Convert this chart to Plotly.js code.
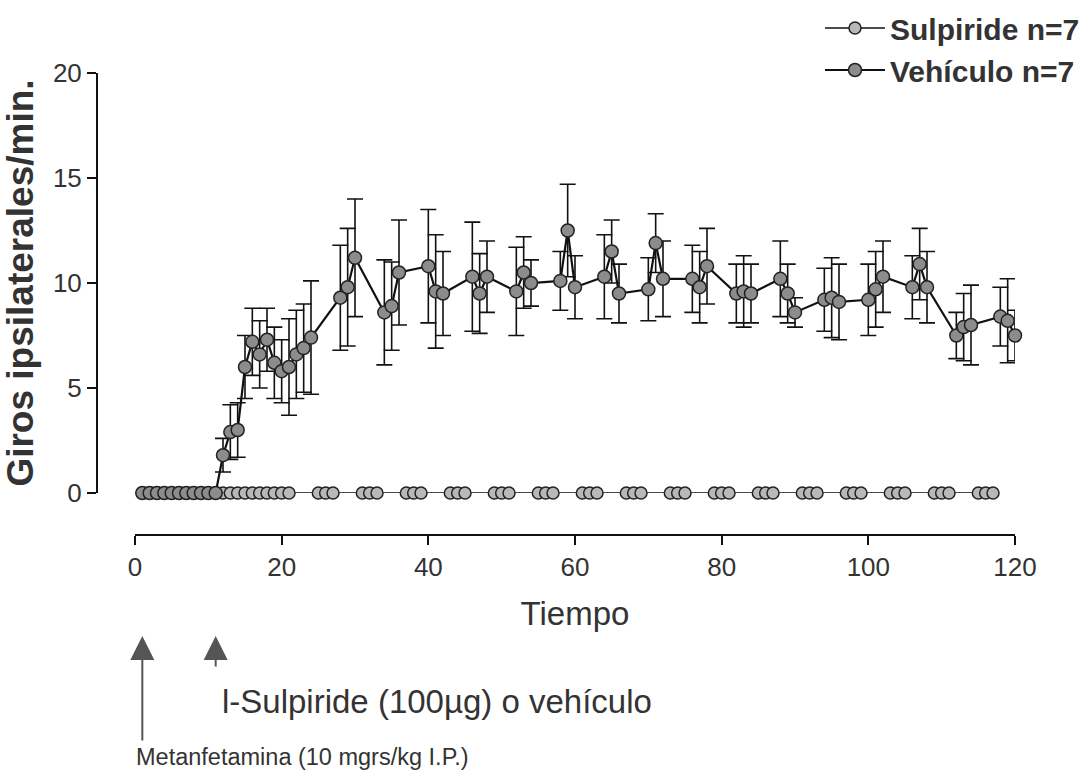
<!DOCTYPE html>
<html>
<head>
<meta charset="utf-8">
<script src="https://cdn.plot.ly/plotly-3.0.1.min.js"></script>
<style>html,body{margin:0;padding:0;background:#fff;}#chart{width:1089px;height:780px;}</style>
</head>
<body>
<div id="chart"></div>
<script>
// ---- data ----
const seriesNames = ["Sulpiride n=7", "Vehículo n=7"];

const sulpTime = [1,2,3,4,5,6,7,8,9,10,11,12,13,14,15,16,17,18,19,20,21,
  25,26,27,31,32,33,37,38,39,43,44,45,49,50,51,55,56,57,61,62,63,67,68,69,
  73,74,75,79,80,81,85,86,87,91,92,93,97,98,99,103,104,105,109,110,111,115,116,117];
const sulpValue = [0,0,0,0,0,0,0,0,0,0,0,0,0,0,0,0,0,0,0,0,0,
  0,0,0,0,0,0,0,0,0,0,0,0,0,0,0,0,0,0,0,0,0,0,0,0,
  0,0,0,0,0,0,0,0,0,0,0,0,0,0,0,0,0,0,0,0,0,0,0,0];

const vehTime = [1,2,3,4,5,6,7,8,9,10,11,
  12,13,14,15,16,17,18,19,20,21,22,23,24,
  28,29,30,34,35,36,40,41,42,46,47,48,52,53,54,58,59,60,64,65,66,
  70,71,72,76,77,78,82,83,84,88,89,90,94,95,96,100,101,102,106,107,108,
  112,113,114,118,119,120];
const vehValue = [0,0,0,0,0,0,0,0,0,0,0,
  1.8,2.9,3.0,6.0,7.2,6.6,7.3,6.2,5.8,6.0,6.6,6.9,7.4,
  9.3,9.8,11.2,8.6,8.9,10.5,10.8,9.6,9.5,10.3,9.5,10.3,9.6,10.5,10.0,10.1,12.5,9.8,10.3,11.5,9.5,
  9.7,11.9,10.2,10.2,9.8,10.8,9.5,9.6,9.5,10.2,9.5,8.6,9.2,9.3,9.1,9.2,9.7,10.3,9.8,10.9,9.8,
  7.5,7.9,8.0,8.4,8.2,7.5];
const vehError = [0,0,0,0,0,0,0,0,0,0,0,
  0.8,1.3,1.3,1.5,1.6,1.6,1.5,1.7,1.5,2.3,2.1,2.1,2.7,
  2.5,2.8,2.8,2.5,2.1,2.5,2.7,2.7,2.0,2.6,1.9,1.7,2.1,1.7,1.1,1.4,2.2,1.5,2.0,1.5,1.4,
  1.5,1.4,1.8,1.6,1.7,1.8,1.4,1.7,1.4,1.8,1.4,0.7,1.5,1.9,1.8,1.7,1.8,1.7,1.5,1.7,1.7,
  1.1,1.6,1.9,1.4,2.0,1.2];

const xTicks = [0,20,40,60,80,100,120];
const yTicks = [0,5,10,15,20];
const axisTitles = {x: "Tiempo", y: "Giros ipsilaterales/min."};
const arrowTimes = [1, 11];
const arrowLabels = ["Metanfetamina (10 mgrs/kg I.P.)", "l-Sulpiride (100µg) o vehículo"];

// ---- traces ----
const traces = [
  {
    x: sulpTime, y: sulpValue, name: seriesNames[0], type: "scatter", mode: "lines+markers",
    line: {color: "#111", width: 1.5},
    marker: {symbol: "circle", size: 12, color: "#b8b8b8", line: {color: "#222", width: 1.5}},
    cliponaxis: false
  },
  {
    x: vehTime, y: vehValue, name: seriesNames[1], type: "scatter", mode: "lines+markers",
    line: {color: "#111", width: 2.2},
    marker: {symbol: "circle", size: 13, color: "#8c8c8c", line: {color: "#222", width: 1.5}},
    error_y: {type: "data", array: vehError, visible: true, color: "#111", thickness: 1.6, width: 8},
    cliponaxis: false
  }
];

const L = 97, R = 74, T = 73, B = 245;
const W = 1089 - L - R, H = 780 - T - B;
const px2x = p => (p - L) / W;
const px2y = p => (780 - B - p) / H;

const tickFont = {family: "Liberation Sans, Arial, sans-serif", size: 26, color: "#333"};

const annotations = [
  {xref: "x", yref: "paper", x: arrowTimes[0], y: px2y(636), ax: 0, ay: 106, text: "",
   showarrow: true, arrowhead: 2, arrowsize: 2.4, arrowwidth: 2, arrowcolor: "#555"},
  {xref: "x", yref: "paper", x: arrowTimes[1], y: px2y(636), ax: 0, ay: 32, text: "",
   showarrow: true, arrowhead: 2, arrowsize: 2.4, arrowwidth: 2, arrowcolor: "#555"},
  {xref: "paper", yref: "paper", x: px2x(134), y: px2y(757), xanchor: "left", yanchor: "middle",
   text: arrowLabels[0], showarrow: false,
   font: {family: "Liberation Sans, Arial, sans-serif", size: 23.5, color: "#333"}},
  {xref: "paper", yref: "paper", x: px2x(220), y: px2y(701), xanchor: "left", yanchor: "middle",
   text: arrowLabels[1], showarrow: false,
   font: {family: "Liberation Sans, Arial, sans-serif", size: 33, color: "#333"}}
];

const layout = {
  width: 1089, height: 780,
  margin: {l: L, r: R, t: T, b: B, pad: 0, autoexpand: false},
  paper_bgcolor: "#fff", plot_bgcolor: "#fff",
  showlegend: true,
  legend: {
    x: px2x(820), y: px2y(2), xanchor: "left", yanchor: "top",
    font: {family: "Liberation Sans, Arial, sans-serif", size: 30, color: "#333", weight: "bold"},
    bgcolor: "rgba(0,0,0,0)", itemwidth: 60, tracegroupgap: 2, itemclick: false
  },
  xaxis: {
    domain: [px2x(135), 1], range: [0, 120], anchor: "free", position: 0,
    showline: true, linecolor: "#111", linewidth: 2,
    ticks: "outside", ticklen: 9, tickwidth: 2, tickcolor: "#111",
    tickmode: "array", tickvals: xTicks, ticktext: xTicks.map(String),
    tickfont: tickFont, showgrid: false, zeroline: false, automargin: false,
    title: {text: axisTitles.x, font: {family: "Liberation Sans, Arial, sans-serif", size: 33, color: "#333"}, standoff: 20}
  },
  yaxis: {
    domain: [px2y(493), 1], range: [0, 20], anchor: "free", position: 0,
    showline: true, linecolor: "#111", linewidth: 2,
    ticks: "outside", ticklen: 9, tickwidth: 2, tickcolor: "#111",
    tickmode: "array", tickvals: yTicks, ticktext: yTicks.map(String),
    tickfont: tickFont, showgrid: false, zeroline: false, automargin: false,
    title: {text: axisTitles.y, font: {family: "Liberation Sans, Arial, sans-serif", size: 37, color: "#333", weight: "bold"}, standoff: 12}
  },
  annotations: annotations
};

Plotly.newPlot("chart", traces, layout, {displayModeBar: false, staticPlot: true});
</script>
</body>
</html>
